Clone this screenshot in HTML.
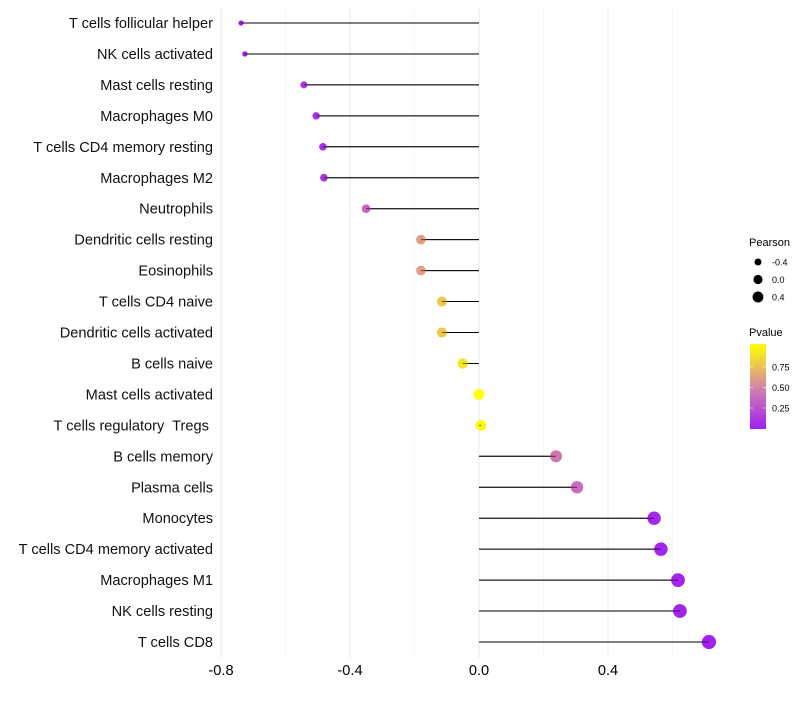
<!DOCTYPE html>
<html><head><meta charset="utf-8"><style>
body{margin:0;background:#fff;font-family:"Liberation Sans",sans-serif}
text{white-space:pre}
</style></head><body>
<svg id="c" width="800" height="700" xmlns="http://www.w3.org/2000/svg" font-family="Liberation Sans, sans-serif"></svg>
<script>
const categories=["T cells follicular helper","NK cells activated","Mast cells resting","Macrophages M0","T cells CD4 memory resting","Macrophages M2","Neutrophils","Dendritic cells resting","Eosinophils","T cells CD4 naive","Dendritic cells activated","B cells naive","Mast cells activated","T cells regulatory  Tregs ","B cells memory","Plasma cells","Monocytes","T cells CD4 memory activated","Macrophages M1","NK cells resting","T cells CD8"];
const pearson=[-0.738,-0.726,-0.543,-0.505,-0.484,-0.481,-0.350,-0.180,-0.180,-0.115,-0.115,-0.050,0.0,0.006,0.239,0.304,0.543,0.564,0.617,0.623,0.713];
const pvalue=[0.0,0.0,0.1,0.1,0.08,0.1,0.35,0.62,0.62,0.78,0.78,0.9,1.0,0.98,0.45,0.38,0.04,0.03,0.02,0.02,0.01];
const xTicks=[-0.8,-0.4,0.0,0.4];
const xTickLabels=["-0.8","-0.4","0.0","0.4"];
const xMinor=[-0.6,-0.2,0.2,0.6];
const legendPearson=[-0.4,0.0,0.4];
const legendP=[0.25,0.5,0.75];
const svg=document.getElementById('c');const NS="http://www.w3.org/2000/svg";
function el(t,a,p){const e=document.createElementNS(NS,t);for(const k in a)e.setAttribute(k,a[k]);(p||svg).appendChild(e);return e;}
const X=v=>479+v*322.5;
const Y=i=>23+i*30.95;
const R=v=>Math.sqrt(Math.max(1.5,29+30*v));
function lerp(a,b,t){return Math.round(a+(b-a)*t);}
function col(p){const s=[[160,32,240],[214,130,172],[255,255,0]];let t=Math.max(0,Math.min(1,p));let i=t<0.5?0:1;let u=t<0.5?t/0.5:(t-0.5)/0.5;const a=s[i],b=s[i+1];return `rgb(${lerp(a[0],b[0],u)},${lerp(a[1],b[1],u)},${lerp(a[2],b[2],u)})`;}
const grid=el('g',{});
xMinor.forEach(v=>{const l=el('line',{x1:X(v),x2:X(v),y1:8,y2:658,stroke:'#f2f2f2','stroke-width':0.6},grid);});
xTicks.forEach(v=>{const l=el('line',{x1:X(v),x2:X(v),y1:8,y2:658,stroke:'#ebebeb','stroke-width':1.1},grid);});
const ax=el('g',{});
xTicks.forEach((v,i)=>{const t=el('text',{x:X(v),y:675,'text-anchor':'middle','font-size':14.6,fill:'#000'},ax);t.textContent=xTickLabels[i];});
categories.forEach((c,i)=>{
 const t=el('text',{x:213,y:Y(i)+5,'text-anchor':'end','font-size':14.6,fill:'#111'});t.textContent=c;
 
 const l=el('line',{x1:X(0),x2:X(pearson[i]),y1:Y(i),y2:Y(i),stroke:'#000','stroke-width':1});
 
 const d=el('circle',{cx:X(pearson[i]),cy:Y(i),r:R(pearson[i]),fill:col(pvalue[i])});
 
 const l2=el('line',{x1:X(0),x2:X(pearson[i]),y1:Y(i),y2:Y(i),stroke:'#000','stroke-width':1,opacity:0.6});
 
});
const lg=el('g',{});
let tt=el('text',{x:749,y:246,'font-size':11},lg);tt.textContent='Pearson';
legendPearson.forEach((v,i)=>{const y=262+i*17.5;const c=el('circle',{cx:758,cy:y,r:R(v)*0.85,fill:'#000'},lg);
 const t=el('text',{x:772,y:y+3.5,'font-size':9},lg);t.textContent=v.toFixed(1);});
tt=el('text',{x:749,y:336,'font-size':11},lg);tt.textContent='Pvalue';
const defs=el('defs',{});const gr=el('linearGradient',{id:'pg',x1:0,y1:1,x2:0,y2:0},defs);
[0,0.25,0.5,0.75,1].forEach(o=>el('stop',{offset:o,'stop-color':col(o*1.03)},gr));
const bar=el('rect',{x:750,y:344,width:16,height:85,fill:'url(#pg)'},lg);
const PY=p=>428.5-p*82;
legendP.forEach(p=>{el('line',{x1:750,x2:753,y1:PY(p),y2:PY(p),stroke:'#fff','stroke-width':0.6},lg);el('line',{x1:763,x2:766,y1:PY(p),y2:PY(p),stroke:'#fff','stroke-width':0.6},lg);
 const t=el('text',{x:772,y:PY(p)+3.5,'font-size':9},lg);t.textContent=p.toFixed(2);});
</script>
</body></html>
